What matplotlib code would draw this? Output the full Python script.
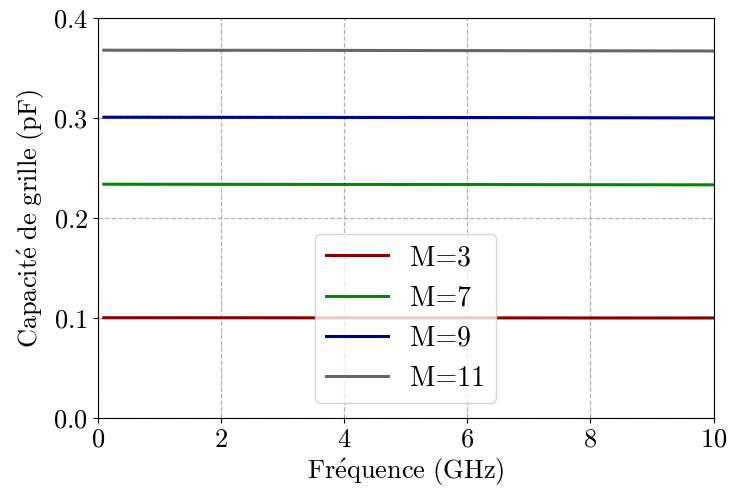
import numpy as np
import matplotlib
matplotlib.use("Agg")
import matplotlib.pyplot as plt

# -------------------------------------------------------------
# Data
# -------------------------------------------------------------
freq_ghz = [0.1, 2.0, 4.0, 6.0, 8.0, 10.0]
cap_m3 = [0.1003, 0.1003, 0.1002, 0.1002, 0.1001, 0.1001]
cap_m7 = [0.2338, 0.2337, 0.2336, 0.2335, 0.2333, 0.2332]
cap_m9 = [0.3008, 0.3007, 0.3006, 0.3005, 0.3003, 0.3001]
cap_m11 = [0.3678, 0.3677, 0.3676, 0.3674, 0.3672, 0.3670]
series_labels = ["M=3", "M=7", "M=9", "M=11"]
series_colors = ["#8b0000", "#008800", "#00008b", "#666666"]

# -------------------------------------------------------------
# Style: Computer Modern look without LaTeX
# -------------------------------------------------------------
plt.rcParams["font.family"] = ["cmr10", "DejaVu Serif"]
plt.rcParams["mathtext.fontset"] = "cm"
plt.rcParams["axes.formatter.use_mathtext"] = True
plt.rcParams["font.size"] = 19

fig = plt.figure(figsize=(7.29, 4.93), dpi=100)
ax = fig.add_axes([0.134, 0.152, 0.845, 0.8115])

for vals, lab, col in zip([cap_m3, cap_m7, cap_m9, cap_m11], series_labels, series_colors):
    ax.plot(freq_ghz, vals, color=col, linewidth=2.2, label=lab)

ax.set_xlim(0, 10)
ax.set_ylim(0, 0.4)
ax.set_xticks([0, 2, 4, 6, 8, 10])
ax.set_yticks([0.0, 0.1, 0.2, 0.3, 0.4])
ax.set_xticklabels([f"${v}$" for v in [0, 2, 4, 6, 8, 10]])
ax.set_yticklabels([f"${v:.1f}$" for v in [0.0, 0.1, 0.2, 0.3, 0.4]])
ax.grid(True, linestyle="--", color="#b0b0b0", linewidth=0.9)
ax.set_axisbelow(True)

ax.set_xlabel(r"$\mathrm{Fr\acute{e}quence\ (GHz)}$")
ax.set_ylabel(r"$\mathrm{Capacit\acute{e}\ de\ grille\ (pF)}$")

ax.legend(loc="lower center", bbox_to_anchor=(0.5, 0.0), borderaxespad=0.55,
          fontsize=20, labelspacing=0.5, handlelength=2.2)

fig.savefig("out.png", dpi=100)
